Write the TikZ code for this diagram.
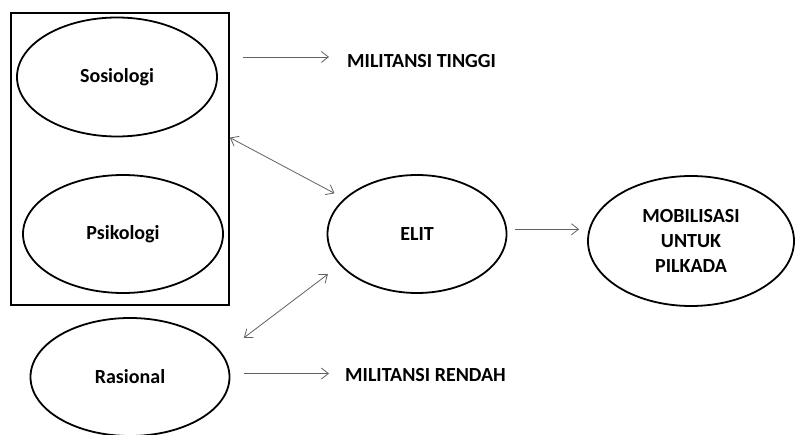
\documentclass[tikz,border=0pt]{standalone}
\usepackage{fontspec}
\setmainfont{Carlito}
\usetikzlibrary{shapes.geometric,arrows.meta}
\tikzset{
  oval/.style={draw=black, line width=1.8pt, ellipse, inner sep=0pt, align=center,
    font=\fontsize{20}{25}\selectfont\bfseries},
  lbl/.style={inner sep=0pt, anchor=west, font=\fontsize{20}{24}\selectfont\bfseries},
  arr/.style={draw=black!62, line width=0.8pt, -{Straight Barb[length=7pt,width=11pt]}},
  darr/.style={draw=black!62, line width=0.8pt, {Straight Barb[length=7pt,width=11pt]}-{Straight Barb[length=7pt,width=11pt]}},
  frame/.style={draw=black, line width=1.8pt, rectangle, inner sep=0pt}
}
\begin{document}
\begin{tikzpicture}[x=1pt,y=-1pt]
\clip (0,0) rectangle (795,435);
\fill[white] (0,0) rectangle (795,435);
\node[frame, minimum width=218pt, minimum height=292pt] (box) at (120,159) {};
\node[oval, minimum width=200pt, minimum height=119pt] (sos) at (117,77) {Sosiologi};
\node[oval, minimum width=200pt, minimum height=118pt] (psi) at (123,234) {Psikologi};
\node[oval, minimum width=199pt, minimum height=118pt] (ras) at (130,377) {Rasional};
\node[oval, minimum width=179pt, minimum height=118pt] (elit) at (417,234) {ELIT};
\node[oval, minimum width=206pt, minimum height=130pt] (mob) at (691,241) {MOBILISASI\\UNTUK\\PILKADA};
\node[lbl] (tinggi) at (347,61.5) {MILITANSI TINGGI};
\node[lbl] (rendah) at (345,375) {MILITANSI RENDAH};
\coordinate (a1) at (243,57);
\draw[arr, shorten >=18pt] (a1) -- (a1 -| tinggi.west);
\draw[darr, shorten >=11pt] (box.11.3) -- (elit.154.3);
\draw[darr, shorten <=26.7pt, shorten >=15pt] (ras.14.2) -- (elit.202.2);
\draw[arr, shorten <=8pt, shorten >=8pt] (elit.3.85) -- (elit.3.85 -| mob.west);
\draw[arr, shorten <=13.6pt, shorten >=16pt] (ras.2.9) -- (ras.2.9 -| rendah.west);
\end{tikzpicture}
\end{document}
